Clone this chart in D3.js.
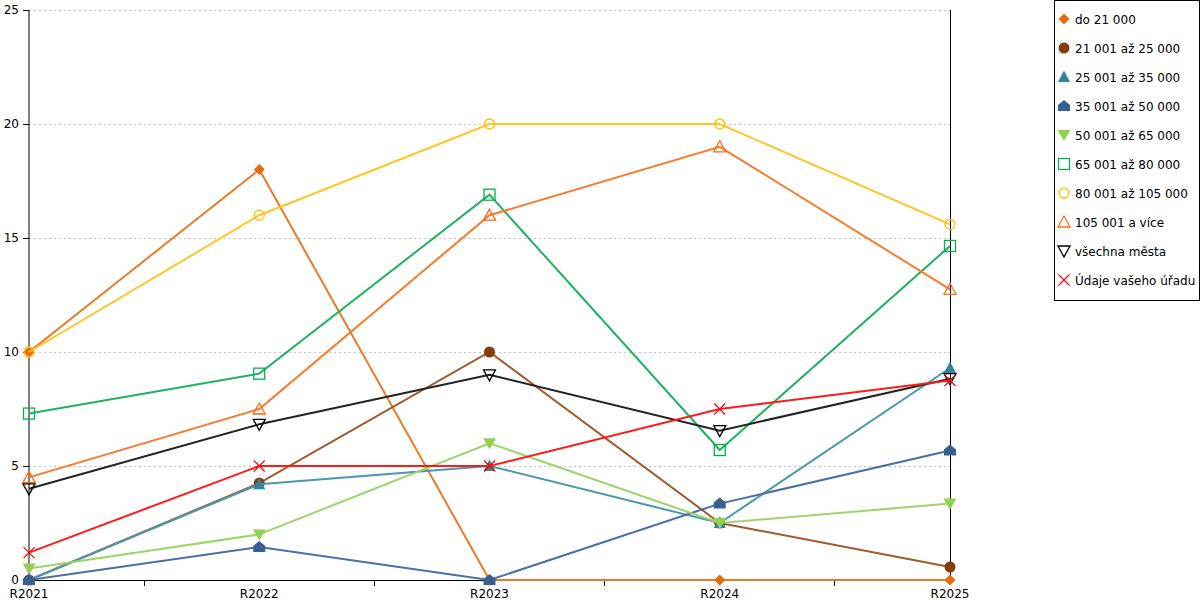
<!DOCTYPE html>
<html>
<head>
<meta charset="utf-8">
<script src="https://cdn.jsdelivr.net/npm/d3@7"></script>
<style>
	body { margin: 0; background: #fff; }
	svg { font-family: "DejaVu Sans", Verdana, sans-serif; font-size: 12px; }
</style>
</head>
<body>
<svg id="chart" width="1200" height="600"></svg>
<script>
// Categories and series values.
var years = ["R2021", "R2022", "R2023", "R2024", "R2025"];
var seriesNames = ["do 21 000", "21 001 až 25 000", "25 001 až 35 000", "35 001 až 50 000",
	"50 001 až 65 000", "65 001 až 80 000", "80 001 až 105 000", "105 001 a více",
	"všechna města", "Údaje vašeho úřadu"];
var do21 = [10, 18, 0, 0, 0];
var do25 = [0, 4.25, 10, 2.5, 0.57];
var do35 = [0, 4.2, 5, 2.5, 9.3];
var do50 = [0, 1.45, 0, 3.35, 5.68];
var do65 = [0.5, 2.0, 6.0, 2.5, 3.35];
var do80 = [7.3, 9.05, 16.9, 5.7, 14.65];
var do105 = [10, 16, 20, 20, 15.6];
var nad105 = [4.5, 7.5, 16, 19, 12.75];
var vsechna = [4.0, 6.83, 9.0, 6.55, 8.83];
var urad = [1.2, 5, 5, 7.5, 8.75];
var yTicks = [0, 5, 10, 15, 20, 25];

var seriesValues = [do21, do25, do35, do50, do65, do80, do105, nad105, vsechna, urad];

// Styles.
var markerColors = ["#e46c0a", "#843c0c", "#31849b", "#366092", "#92d050", "#00b050", "#ffc000", "#ff6a13", "#000000", "#ff0000"];
var lineColors = ["#e67c28", "#a05a2c", "#4b98ad", "#4a6fa3", "#9dd46a", "#1db35e", "#ffc526", "#fa7a2c", "#222222", "#ff1a1a"];
var markerTypes = ["diamond", "circle", "triangle", "house", "tridown", "square", "ocircle", "otriangle", "otridown", "cross"];

var svg = d3.select("#chart");
var plotLeft = 29, plotRight = 950, plotTop = 10, plotBottom = 580;

var x = d3.scalePoint().domain(years).range([plotLeft, plotRight]);
var y = d3.scaleLinear().domain([0, 25]).range([plotBottom, plotTop]);

// Gridlines.
svg.append("g")
	.selectAll("line")
	.data(yTicks.filter(function(d) { return d > 0; }))
	.enter()
	.append("line")
	.attr("x1", plotLeft)
	.attr("x2", plotRight)
	.attr("y1", function(d) { return y(d); })
	.attr("y2", function(d) { return y(d); })
	.attr("stroke", "#c4c4c4")
	.attr("stroke-dasharray", "2,3")
	.attr("shape-rendering", "crispEdges");

// Y axis.
var yAxis = svg.append("g")
	.attr("transform", "translate(" + plotLeft + ",0)")
	.call(d3.axisLeft(y).tickValues(yTicks).tickSize(6).tickPadding(4));
yAxis.select(".domain").attr("stroke", "#000").attr("d", "M0," + plotTop + "V" + plotBottom);
yAxis.selectAll("text").attr("font-size", 12).attr("fill", "#000").attr("font-family", "DejaVu Sans");

// Right vertical line.
svg.append("line")
	.attr("x1", plotRight).attr("x2", plotRight)
	.attr("y1", plotTop).attr("y2", plotBottom)
	.attr("stroke", "#000")
	.attr("shape-rendering", "crispEdges");

// X axis with ticks between categories.
var xAxisG = svg.append("g").attr("transform", "translate(0," + plotBottom + ")");
xAxisG.append("line")
	.attr("x1", plotLeft).attr("x2", plotRight)
	.attr("stroke", "#000")
	.attr("shape-rendering", "crispEdges");
var step = x.step();
xAxisG.selectAll(".tick")
	.data(years.slice(0, -1))
	.enter()
	.append("line")
	.attr("x1", function(d) { return x(d) + step / 2; })
	.attr("x2", function(d) { return x(d) + step / 2; })
	.attr("y1", 0).attr("y2", 6)
	.attr("stroke", "#000")
	.attr("shape-rendering", "crispEdges");
xAxisG.selectAll("text")
	.data(years)
	.enter()
	.append("text")
	.attr("x", function(d) { return x(d); })
	.attr("y", 18)
	.attr("text-anchor", "middle")
	.attr("fill", "#000")
	.text(function(d) { return d; });

// Marker drawing.
function drawMarker(g, type, color)
{
	switch (type)
	{
		case "diamond":
			g.append("path").attr("d", "M0,-5.5L5.5,0L0,5.5L-5.5,0Z").attr("fill", color);
			break;
		case "circle":
			g.append("circle").attr("r", 5.5).attr("fill", color);
			break;
		case "triangle":
			g.append("path").attr("d", "M0,-6.5L6,5L-6,5Z").attr("fill", color);
			break;
		case "house":
			g.append("path").attr("d", "M0,-6L6,-1L6,5L-6,5L-6,-1Z").attr("fill", color);
			break;
		case "tridown":
			g.append("path").attr("d", "M-6.5,-5L6.5,-5L0,6Z").attr("fill", color);
			break;
		case "square":
			g.append("rect").attr("x", -5.5).attr("y", -5.5).attr("width", 11).attr("height", 11)
				.attr("fill", "none").attr("stroke", color).attr("stroke-width", 1.3);
			break;
		case "ocircle":
			g.append("circle").attr("r", 5).attr("fill", "none").attr("stroke", color).attr("stroke-width", 1.3);
			break;
		case "otriangle":
			g.append("path").attr("d", "M0,-6L6,5L-6,5Z").attr("fill", "none").attr("stroke", color).attr("stroke-width", 1.3);
			break;
		case "otridown":
			g.append("path").attr("d", "M-6,-5L6,-5L0,6Z").attr("fill", "none").attr("stroke", color).attr("stroke-width", 1.3);
			break;
		case "cross":
			g.append("path").attr("d", "M-5.5,-5.5L5.5,5.5M5.5,-5.5L-5.5,5.5").attr("fill", "none").attr("stroke", color).attr("stroke-width", 1.1);
			break;
	}
}

// Series lines and markers.
var line = d3.line()
	.x(function(d, i) { return x(years[i]); })
	.y(function(d) { return y(d); });

seriesValues.forEach(function(values, si)
{
	var g = svg.append("g");
	g.append("path")
		.datum(values)
		.attr("d", line)
		.attr("fill", "none")
		.attr("stroke", lineColors[si])
		.attr("stroke-width", 2);
	values.forEach(function(v, i)
	{
		var m = g.append("g").attr("transform", "translate(" + x(years[i]) + "," + y(v) + ")");
		drawMarker(m, markerTypes[si], markerColors[si]);
	});
});

// Legend.
var legend = svg.append("g");
legend.append("rect")
	.attr("x", 1054.5).attr("y", 0.5)
	.attr("width", 145).attr("height", 300)
	.attr("fill", "#fff")
	.attr("stroke", "#000");
seriesNames.forEach(function(name, i)
{
	var ly = 19 + i * 29;
	var m = legend.append("g").attr("transform", "translate(1064," + ly + ")");
	drawMarker(m, markerTypes[i], markerColors[i]);
	legend.append("text")
		.attr("x", 1075)
		.attr("y", ly + 4.5)
		.attr("fill", "#000")
		.text(name);
});
</script>
</body>
</html>
